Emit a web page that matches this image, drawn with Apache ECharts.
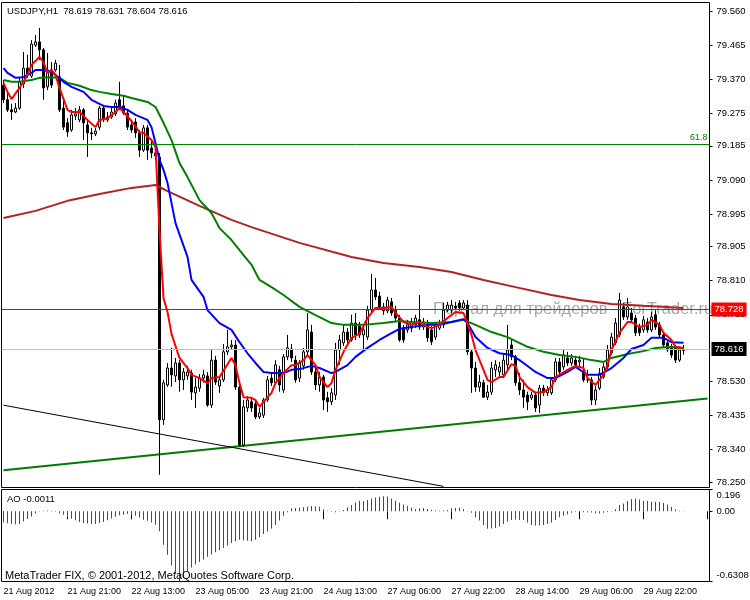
<!DOCTYPE html>
<html><head><meta charset="utf-8">
<script src="https://cdn.jsdelivr.net/npm/echarts@6/dist/echarts.min.js"></script>
<style>html,body{margin:0;padding:0;background:#fff}#c{width:750px;height:600px}</style>
</head><body><div id="c"></div>
<script>
// ---- tick labels ----
const xTickLabels = ['21 Aug 2012','21 Aug 21:00','22 Aug 13:00','23 Aug 05:00','23 Aug 21:00','24 Aug 13:00','27 Aug 06:00','27 Aug 22:00','28 Aug 14:00','29 Aug 06:00','29 Aug 22:00'];
const priceTicks = [78.250,78.340,78.435,78.530,78.715,78.810,78.905,78.995,79.090,79.185,79.275,79.370,79.465,79.560];
const aoTicks = [0.196, 0, -0.6308];
const aoTickLabels = ['0.196','0.00','-0.6308'];

// ---- candles (USDJPY H1) ----
const opens = [
79.354,79.313,79.285,79.279,79.290,79.357,79.401,79.379,79.465,79.474,
79.452,79.349,79.396,79.396,79.377,79.290,79.249,79.229,79.268,79.257,
79.285,79.243,79.221,79.218,79.237,79.290,79.257,79.265,79.274,79.313,
79.296,79.276,79.243,79.251,79.221,79.173,79.235,79.179,79.165,79.154,
78.423,78.520,78.567,78.545,78.581,78.534,78.545,78.553,78.498,78.511,
78.539,78.545,78.464,78.589,78.517,78.534,78.612,78.626,78.631,78.514,
78.353,78.456,78.473,78.467,78.431,78.436,78.478,78.539,78.526,78.562,
78.506,78.598,78.620,78.589,78.539,78.573,78.612,78.667,78.556,78.520,
78.542,78.484,78.473,78.492,78.617,78.637,78.667,78.645,78.692,78.684,
78.659,78.653,78.728,78.784,78.767,78.737,78.726,78.751,78.728,78.706,
78.678,78.673,78.678,78.687,78.701,78.681,78.687,78.673,78.653,78.678,
78.687,78.728,78.728,78.739,78.748,78.734,78.742,78.612,78.567,78.514,
78.526,78.486,78.500,78.562,78.556,78.548,78.576,78.631,78.598,78.526,
78.506,78.492,78.484,78.492,78.464,78.511,78.498,78.498,78.534,78.584,
78.570,78.595,78.581,78.589,78.584,78.553,78.534,78.534,78.478,78.511,
78.542,78.570,78.609,78.637,78.659,78.737,78.709,78.720,78.706,78.681,
78.673,78.695,78.673,78.715,78.687,78.659,78.637,78.626,78.626,78.589,78.619];
const closes = [
79.313,79.285,79.279,79.290,79.363,79.401,79.385,79.468,79.474,79.452,
79.346,79.396,79.354,79.415,79.285,79.237,79.224,79.271,79.274,79.285,
79.249,79.221,79.218,79.226,79.290,79.257,79.265,79.279,79.304,79.290,
79.276,79.237,79.229,79.221,79.173,79.235,79.173,79.165,79.157,78.423,
78.526,78.567,78.548,78.581,78.534,78.556,78.556,78.500,78.514,78.539,
78.548,78.464,78.589,78.528,78.534,78.612,78.626,78.631,78.514,78.353,
78.459,78.478,78.456,78.431,78.442,78.478,78.534,78.526,78.576,78.520,
78.598,78.623,78.595,78.534,78.581,78.612,78.673,78.556,78.520,78.542,
78.478,78.473,78.498,78.617,78.645,78.667,78.645,78.692,78.659,78.659,
78.673,78.728,78.784,78.765,78.737,78.726,78.756,78.720,78.706,78.645,
78.645,78.687,78.695,78.706,78.681,78.695,78.651,78.640,78.687,78.687,
78.728,78.742,78.742,78.734,78.734,78.748,78.612,78.567,78.514,78.528,
78.486,78.500,78.567,78.576,78.570,78.589,78.617,78.598,78.526,78.506,
78.486,78.473,78.492,78.456,78.511,78.498,78.506,78.534,78.584,78.556,
78.603,78.581,78.595,78.576,78.589,78.534,78.534,78.478,78.506,78.553,
78.570,78.617,78.653,78.692,78.756,78.709,78.737,78.701,78.665,78.665,
78.701,78.673,78.709,78.681,78.659,78.631,78.617,78.603,78.589,78.617,78.616];
const highs = [
79.368,79.332,79.302,79.304,79.374,79.446,79.438,79.479,79.493,79.513,
79.457,79.443,79.418,79.424,79.410,79.313,79.262,79.285,79.290,79.296,
79.290,79.257,79.235,79.235,79.296,79.299,79.279,79.290,79.313,79.363,
79.326,79.285,79.257,79.262,79.229,79.243,79.243,79.201,79.187,79.165,
78.534,78.581,78.623,78.595,78.589,78.567,78.573,78.562,78.539,78.550,
78.562,78.556,78.617,78.601,78.545,78.634,78.673,78.645,78.645,78.525,
78.478,78.489,78.484,78.478,78.456,78.484,78.545,78.551,78.589,78.573,
78.606,78.659,78.634,78.601,78.589,78.623,78.720,78.687,78.567,78.556,
78.548,78.501,78.511,78.637,78.659,78.687,78.678,78.715,78.720,78.695,
78.687,78.740,78.829,78.818,78.779,78.748,78.765,78.762,78.740,78.715,
78.687,78.701,78.706,78.715,78.770,78.706,78.701,78.684,78.695,78.701,
78.748,78.751,78.756,78.751,78.756,78.756,78.756,78.617,78.584,78.548,
78.534,78.520,78.584,78.589,78.584,78.603,78.687,78.645,78.603,78.553,
78.534,78.501,78.501,78.501,78.520,78.520,78.517,78.539,78.595,78.595,
78.617,78.612,78.606,78.601,78.601,78.595,78.562,78.542,78.517,78.567,
78.581,78.631,78.665,78.706,78.776,78.748,78.762,78.734,78.715,78.690,
78.712,78.706,78.723,78.728,78.695,78.667,78.645,78.634,78.631,78.626,78.631];
const lows = [
79.304,79.279,79.257,79.276,79.285,79.346,79.374,79.374,79.460,79.424,
79.313,79.340,79.346,79.391,79.279,79.229,79.210,79.224,79.257,79.251,
79.201,79.154,79.201,79.212,79.229,79.251,79.251,79.260,79.268,79.285,
79.271,79.229,79.221,79.207,79.154,79.168,79.146,79.151,79.146,78.270,
78.409,78.515,78.515,78.528,78.501,78.506,78.534,78.478,78.456,78.501,
78.526,78.459,78.456,78.520,78.498,78.528,78.603,78.617,78.506,78.348,
78.348,78.445,78.445,78.425,78.425,78.428,78.473,78.517,78.520,78.501,
78.498,78.589,78.584,78.526,78.528,78.562,78.603,78.548,78.506,78.501,
78.450,78.445,78.464,78.478,78.576,78.628,78.631,78.640,78.645,78.651,
78.617,78.645,78.723,78.756,78.728,78.715,78.720,78.712,78.695,78.640,
78.637,78.665,78.667,78.678,78.673,78.673,78.640,78.631,78.645,78.673,
78.678,78.723,78.720,78.728,78.726,78.728,78.603,78.498,78.501,78.501,
78.484,78.478,78.492,78.542,78.539,78.539,78.556,78.589,78.517,78.492,
78.456,78.450,78.478,78.445,78.442,78.489,78.489,78.492,78.528,78.550,
78.562,78.573,78.573,78.567,78.567,78.528,78.526,78.464,78.464,78.506,
78.537,78.565,78.603,78.631,78.653,78.701,78.701,78.692,78.656,78.656,
78.665,78.665,78.667,78.673,78.651,78.623,78.612,78.595,78.581,78.584,78.604];

// ---- moving averages, read at sampled bars [barIndex, price] ----
const maRed = [[0,79.360],[1,79.335],[2,79.315],[4,79.346],[6,79.382],[7,79.410],[9,79.432],[10,79.418],[11,79.388],[12,79.396],[13,79.382],[14,79.346],[16,79.285],[17,79.279],[19,79.279],[21,79.257],[23,79.237],[24,79.257],[26,79.262],[28,79.279],[29,79.290],[30,79.279],[32,79.254],[34,79.223],[35,79.221],[37,79.201],[38,79.182],[39,78.951],[40,78.762],[41,78.723],[42,78.662],[44,78.595],[46,78.567],[47,78.548],[49,78.539],[51,78.525],[52,78.539],[54,78.542],[57,78.595],[58,78.575],[59,78.525],[60,78.486],[62,78.484],[63,78.478],[64,78.459],[65,78.473],[67,78.498],[68,78.525],[70,78.553],[72,78.575],[73,78.575],[75,78.589],[76,78.603],[78,78.575],[79,78.542],[81,78.514],[82,78.525],[83,78.562],[85,78.612],[87,78.651],[89,78.662],[91,78.706],[93,78.734],[95,78.734],[97,78.737],[98,78.720],[100,78.695],[102,78.687],[104,78.695],[106,78.681],[107,78.678],[109,78.687],[111,78.706],[113,78.723],[115,78.720],[117,78.659],[118,78.617],[120,78.562],[121,78.534],[122,78.528],[124,78.542],[125,78.542],[127,78.578],[128,78.573],[129,78.542],[131,78.514],[133,78.498],[135,78.500],[137,78.514],[138,78.542],[141,78.562],[143,78.573],[145,78.567],[146,78.539],[148,78.520],[150,78.548],[151,78.575],[152,78.617],[154,78.665],[156,78.695],[157,78.695],[159,78.681],[161,78.687],[162,78.701],[164,78.687],[165,78.665],[167,78.645],[168,78.626],[170,78.623]];
const maBlue = [[0,79.401],[1,79.388],[3,79.374],[5,79.376],[7,79.388],[8,79.396],[10,79.396],[12,79.390],[13,79.382],[15,79.363],[17,79.349],[20,79.335],[22,79.313],[25,79.296],[27,79.293],[29,79.293],[31,79.285],[33,79.271],[36,79.257],[37,79.237],[38,79.193],[39,79.146],[40,79.118],[41,79.082],[43,78.970],[46,78.876],[47,78.812],[50,78.765],[51,78.728],[54,78.692],[57,78.673],[59,78.639],[61,78.608],[63,78.581],[65,78.556],[67,78.553],[70,78.553],[72,78.562],[74,78.564],[77,78.573],[79,78.567],[82,78.553],[83,78.556],[86,78.575],[88,78.598],[91,78.623],[94,78.645],[97,78.664],[99,78.676],[102,78.681],[106,78.687],[109,78.687],[112,78.695],[115,78.703],[116,78.692],[118,78.653],[121,78.623],[124,78.608],[127,78.603],[129,78.589],[130,78.581],[133,78.556],[136,78.539],[138,78.539],[141,78.556],[143,78.570],[146,78.548],[149,78.548],[152,78.567],[155,78.595],[157,78.620],[160,78.631],[162,78.651],[165,78.651],[167,78.639],[170,78.637]];
const maGreen = [[0,79.368],[2,79.363],[4,79.363],[7,79.368],[9,79.374],[12,79.376],[14,79.374],[16,79.360],[19,79.352],[22,79.340],[24,79.335],[27,79.329],[30,79.324],[32,79.318],[36,79.307],[38,79.293],[40,79.249],[42,79.201],[44,79.137],[46,79.098],[49,79.034],[52,78.998],[54,78.956],[57,78.923],[59,78.895],[62,78.854],[64,78.812],[67,78.792],[70,78.770],[74,78.737],[78,78.714],[82,78.692],[85,78.687],[90,78.687],[95,78.692],[99,78.698],[102,78.695],[107,78.692],[112,78.695],[115,78.701],[118,78.687],[122,78.667],[126,78.653],[131,78.626],[135,78.612],[139,78.603],[143,78.598],[147,78.589],[150,78.584],[152,78.595],[156,78.606],[160,78.614],[163,78.623],[167,78.626],[170,78.620]];
const maBrown = [[0,78.984],[8,79.004],[16,79.032],[24,79.051],[32,79.068],[38,79.076],[41,79.059],[49,79.018],[57,78.979],[62,78.959],[74,78.915],[87,78.876],[95,78.859],[104,78.848],[112,78.834],[120,78.812],[128,78.792],[137,78.770],[144,78.756],[152,78.745],[160,78.740],[170,78.734]];

// ---- drawn objects ----
const trendGreen = [[0,78.2826],[176,78.4820]];
const trendBlack = [[0,78.4636],[110,78.2378]];
const fiboLevel = 79.190;
const askLine = 78.728;
const bidLine = 78.616;

// ---- Awesome Oscillator ----
const ao = [
-0.101,-0.107,-0.113,-0.116,-0.113,-0.092,-0.068,-0.047,-0.018,0.003,
0.006,0.008,0.004,-0.004,-0.020,-0.030,-0.050,-0.065,-0.080,-0.095,
-0.105,-0.110,-0.115,-0.113,-0.105,-0.095,-0.080,-0.065,-0.050,-0.035,
-0.030,-0.025,-0.030,-0.040,-0.055,-0.075,-0.085,-0.100,-0.120,-0.180,
-0.300,-0.390,-0.486,-0.560,-0.6308,-0.600,-0.540,-0.505,-0.477,-0.456,
-0.433,-0.409,-0.388,-0.367,-0.350,-0.329,-0.308,-0.285,-0.270,-0.255,
-0.262,-0.265,-0.268,-0.255,-0.231,-0.205,-0.181,-0.154,-0.122,-0.083,
-0.041,-0.008,0.027,0.030,0.033,0.036,0.041,0.047,0.045,0.040,
0.018,0.004,-0.005,-0.008,0.002,0.012,0.036,0.056,0.080,0.095,
0.092,0.102,0.115,0.124,0.130,0.136,0.134,0.116,0.095,0.077,
0.062,0.047,0.033,0.021,0.027,0.029,0.021,0.012,0.009,0.006,
0.008,0.012,0.027,0.030,0.031,0.021,0.003,-0.012,-0.053,-0.083,
-0.122,-0.157,-0.155,-0.150,-0.136,-0.113,-0.092,-0.077,-0.071,-0.077,
-0.078,-0.101,-0.122,-0.127,-0.128,-0.122,-0.113,-0.101,-0.077,-0.053,
-0.041,-0.027,-0.012,-0.003,-0.006,-0.008,-0.009,-0.010,-0.018,-0.019,
-0.012,-0.006,-0.002,0.018,0.056,0.071,0.092,0.110,0.116,0.107,
0.095,0.092,0.086,0.085,0.084,0.077,0.062,0.041,0.018,0.006,-0.0011];

// hourly bar times (weekend skipped) used as category names
const categories = [];
for (let t = Date.UTC(2012,7,21,5); categories.length < 177; t += 3600000) {
  const d = new Date(t), wd = d.getUTCDay(), h = d.getUTCHours();
  if (wd === 6 || wd === 0 || (wd === 5 && h === 23)) continue;
  categories.push(d.getUTCDate() + ' Aug ' + String(h).padStart(2,'0') + ':00');
}

const candleData = opens.map((o, i) => [o, closes[i], lows[i], highs[i]]);
const FONT = 'Liberation Sans';
const chart = echarts.init(document.getElementById('c'));
const every16 = (i) => i % 16 === 0;

function hLine(value, color, label) {
  return {
    type: 'line', xAxisIndex: 0, yAxisIndex: 0, data: [], z: 5, silent: true,
    lineStyle: { color: color, width: 1 }, itemStyle: { color: color },
    markLine: { silent: true, symbol: ['none', 'none'], animation: false,
      lineStyle: { color: color, width: 1, type: 'solid' },
      data: [{ yAxis: value, lineStyle: { color: color, width: 1, type: 'solid' }, label: label }] }
  };
}

chart.setOption({
  animation: false,
  backgroundColor: '#fff',
  textStyle: { fontFamily: FONT },
  grid: [
    { left: 1.5, width: 708, top: 2.5, height: 485, show: true, borderColor: '#000', borderWidth: 1, backgroundColor: 'transparent', outerBoundsMode: 'none', containLabel: false },
    { left: 1.5, width: 708, top: 489.5, height: 92, show: true, borderColor: '#000', borderWidth: 1, backgroundColor: 'transparent', outerBoundsMode: 'none', containLabel: false }
  ],
  xAxis: [
    { type: 'category', gridIndex: 0, data: categories, boundaryGap: true,
      axisLine: { show: false }, axisTick: { show: false }, axisLabel: { show: false }, splitLine: { show: false } },
    { type: 'category', gridIndex: 1, data: categories, boundaryGap: true,
      axisLine: { show: false },
      axisTick: { show: true, interval: every16, alignWithLabel: true, length: 8, lineStyle: { color: '#000' } },
      axisLabel: { show: true, interval: every16, align: 'left', margin: 6, fontSize: 9, color: '#000', fontFamily: FONT,
        formatter: (v, idx) => (idx % 16 === 0 && xTickLabels[idx / 16]) ? xTickLabels[idx / 16] : '' },
      splitLine: { show: false } }
  ],
  yAxis: [
    { type: 'value', gridIndex: 0, position: 'right', min: 78.2347, max: 79.5836, scale: true,
      axisLine: { show: false }, splitLine: { show: false },
      axisTick: { show: true, length: 3, inside: false, lineStyle: { color: '#000' }, customValues: priceTicks },
      axisLabel: { show: true, margin: 7, fontSize: 9.5, color: '#000', fontFamily: FONT, customValues: priceTicks,
        formatter: (v) => v.toFixed(3) } },
    { type: 'value', gridIndex: 1, position: 'right', min: -0.6308, max: 0.196,
      axisLine: { show: false }, splitLine: { show: false },
      axisTick: { show: true, length: 3, lineStyle: { color: '#000' }, customValues: aoTicks },
      axisLabel: { show: true, margin: 7, fontSize: 9.5, color: '#000', fontFamily: FONT, customValues: aoTicks,
        formatter: (v) => {
          const k = aoTicks.findIndex(t => Math.abs(t - v) < 1e-6);
          if (k === 0) return '{top|' + aoTickLabels[0] + '}';
          if (k === 2) return '{bot|' + aoTickLabels[2] + '}';
          return k >= 0 ? aoTickLabels[k] : '';
        },
        rich: { top: { padding: [12, 0, 0, 0], fontSize: 9.5, fontFamily: FONT, color: '#000' },
                bot: { padding: [0, 0, 12, 0], fontSize: 9.5, fontFamily: FONT, color: '#000' } } } }
  ],
  graphic: [
    { type: 'text', left: 433, top: 301, z: 0, silent: true,
      style: { text: 'Портал для трейдеров - ForTrader.ru', font: '16.5px "Liberation Sans"', fill: 'rgba(110,110,110,0.6)' } },
    { type: 'text', left: 7, top: 6, z: 100, style: { text: 'USDJPY,H1  78.619 78.631 78.604 78.616', font: '9.5px "Liberation Sans"', fill: '#000' } },
    { type: 'text', left: 7, top: 494, z: 100, style: { text: 'AO -0.0011', font: '9.5px "Liberation Sans"', fill: '#000' } },
    { type: 'text', left: 5, top: 570, z: 100, style: { text: 'MetaTrader FIX, © 2001-2012, MetaQuotes Software Corp.', font: '11px "Liberation Sans"', fill: '#000' } }
  ],
  series: [
    { type: 'line', xAxisIndex: 0, yAxisIndex: 0, data: trendGreen, showSymbol: false, z: 2,
      lineStyle: { color: '#007a00', width: 2 } },
    { type: 'line', xAxisIndex: 0, yAxisIndex: 0, data: trendBlack, showSymbol: false, z: 2,
      lineStyle: { color: '#000', width: 1 } },
    hLine(fiboLevel, '#008000', { show: true, position: 'insideEndTop', formatter: '61.8', color: '#008000', fontSize: 9, fontFamily: FONT, distance: 2 }),
    hLine(bidLine, '#c0c0c0', { show: true, position: 'end', formatter: bidLine.toFixed(3), color: '#fff', backgroundColor: '#000', padding: [2, 3, 2, 3], fontSize: 9.5, fontFamily: FONT, distance: 2 }),
    hLine(askLine, '#ff0000', { show: true, position: 'end', formatter: askLine.toFixed(3), color: '#fff', backgroundColor: '#ff0000', padding: [2, 3, 2, 3], fontSize: 9.5, fontFamily: FONT, distance: 2 }),
    { type: 'candlestick', xAxisIndex: 0, yAxisIndex: 0, data: candleData, barWidth: 3, z: 3,
      itemStyle: { color: '#fff', color0: '#000', borderColor: '#000', borderColor0: '#000', borderWidth: 1 } },
    { type: 'line', xAxisIndex: 0, yAxisIndex: 0, data: maBrown, showSymbol: false, z: 4, lineStyle: { color: '#b22222', width: 2 } },
    { type: 'line', xAxisIndex: 0, yAxisIndex: 0, data: maGreen, showSymbol: false, z: 4, lineStyle: { color: '#008000', width: 2 } },
    { type: 'line', xAxisIndex: 0, yAxisIndex: 0, data: maBlue, showSymbol: false, z: 4, lineStyle: { color: '#0000ff', width: 2 } },
    { type: 'line', xAxisIndex: 0, yAxisIndex: 0, data: maRed, showSymbol: false, z: 4, lineStyle: { color: '#ff0000', width: 2 } },
    { type: 'bar', xAxisIndex: 1, yAxisIndex: 1, data: ao, barWidth: 1,
      itemStyle: { color: (p) => (p.dataIndex > 0 && ao[p.dataIndex] > ao[p.dataIndex - 1]) ? '#008000' : '#ff0000' } }
  ]
});
</script></body></html>
